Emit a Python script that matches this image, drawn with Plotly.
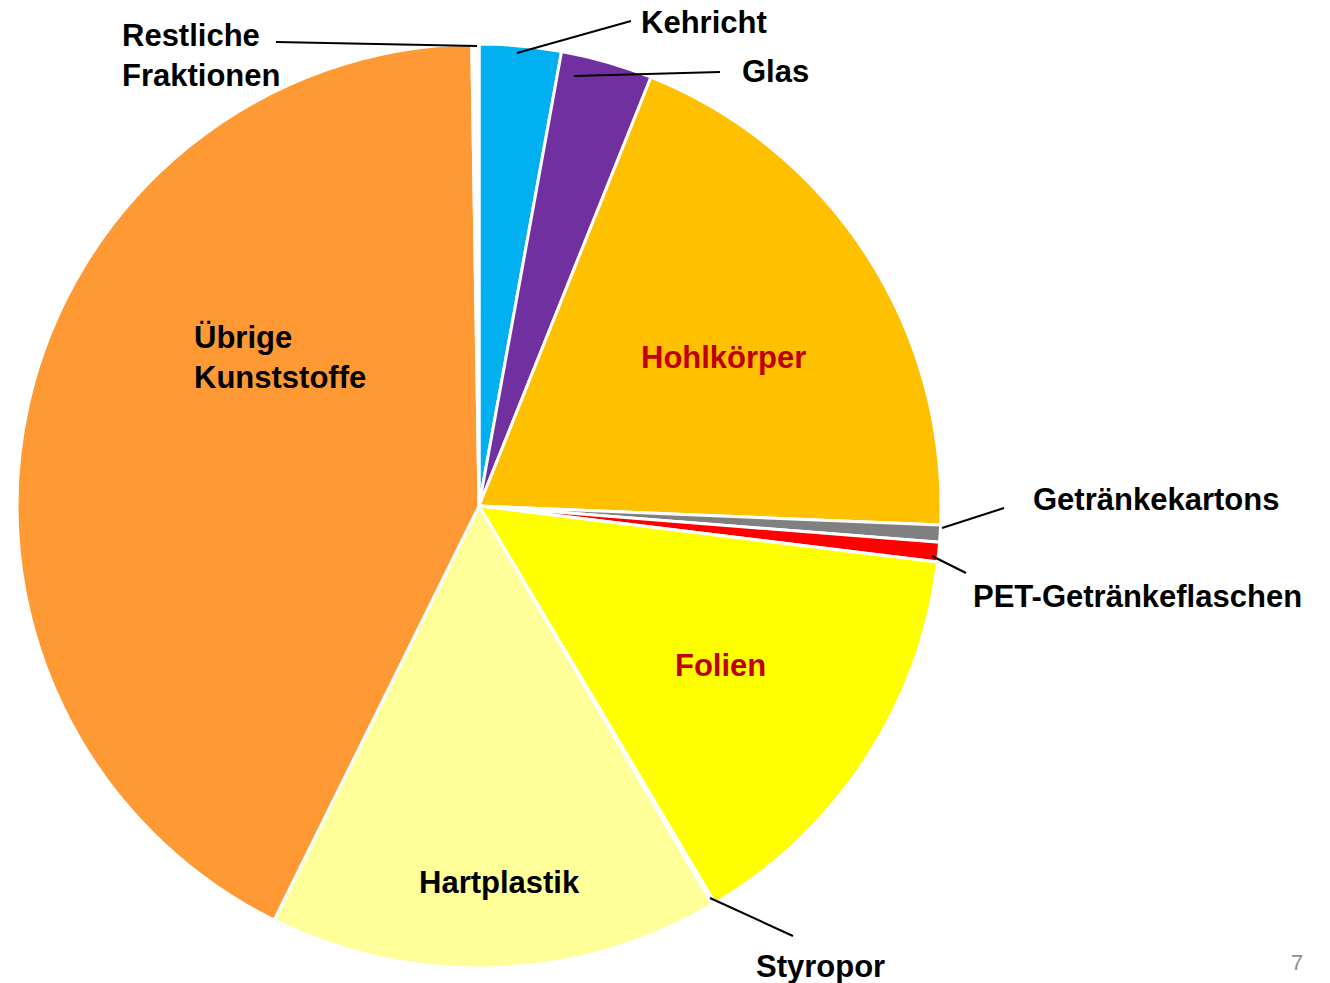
import plotly.graph_objects as go

W, H = 1330, 983

labels = ["Kehricht", "Glas", "Hohlkörper", "Getränkekartons", "PET-Getränkeflaschen",
          "Folien", "Styropor", "Hartplastik", "Übrige Kunststoffe", "Restliche Fraktionen"]
values = [2.86, 3.21, 19.59, 0.59, 0.69, 14.53, 0.10, 15.75, 42.44, 0.25]
colors = ["#00B0F0", "#7030A0", "#FFC000", "#808080", "#FF0000",
          "#FFFF00", "#FFFFFF", "#FFFF99", "#FF9933", "#FFFFFF"]

fig = go.Figure(go.Pie(
    labels=labels, values=values, sort=False, direction="clockwise", rotation=0,
    marker=dict(colors=colors, line=dict(color="#FFFFFF", width=3)),
    textinfo="none", hoverinfo="label+percent", showlegend=False,
    domain=dict(x=[17 / W, 941 / W], y=[1 - 968 / H, 1 - 44 / H]),
))

FONT = "Liberation Sans, Arial, sans-serif"


def px(x):
    return x / W


def py(y):
    return 1 - y / H


def label(text, x, y, color="#000000", xanchor="left", size=31):
    fig.add_annotation(x=px(x), y=py(y), xref="paper", yref="paper", text="<b>" + text + "</b>",
                       showarrow=False, xanchor=xanchor, yanchor="middle", align="left",
                       font=dict(family=FONT, size=size, color=color))


def line(x0, y0, x1, y1, color="#000000", width=2):
    fig.add_shape(type="line", xref="paper", yref="paper", x0=px(x0), y0=py(y0), x1=px(x1), y1=py(y1),
                  line=dict(color=color, width=width))


# outside labels
label("Kehricht", 639, 22)
line(517, 53, 631, 21)
label("Glas", 740, 72)
line(574, 76, 720, 72)
label("Restliche<br>Fraktionen", 120, 56)
line(276, 42, 477, 46)
label("Getränkekartons", 1031, 499)
line(942, 528, 1004, 508)
label("PET-Getränkeflaschen", 971, 596)
line(932, 556, 966, 573)
label("Styropor", 754, 966)
line(710, 898, 793, 936)

# inside labels
label("Übrige<br>Kunststoffe", 192, 358)
label("Hohlkörper", 723, 358, color="#C00000", xanchor="center")
label("Folien", 720, 665, color="#C00000", xanchor="center")
label("Hartplastik", 499, 882, xanchor="center")

# page number
fig.add_annotation(x=px(1297), y=py(962), xref="paper", yref="paper", text="7", showarrow=False,
                   xanchor="center", yanchor="middle", font=dict(family=FONT, size=22, color="#8C8C8C"))

fig.update_layout(width=W, height=H, margin=dict(l=0, r=0, t=0, b=0),
                  paper_bgcolor="#FFFFFF", plot_bgcolor="#FFFFFF")

fig.write_html("out.html", config={"displayModeBar": False},
               post_script="document.body.style.margin='0px';document.body.style.overflow='hidden';")
